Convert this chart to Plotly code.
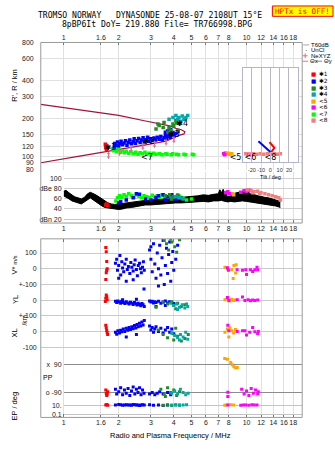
import plotly.graph_objects as go

W, H = 335, 451
def fx(p): return p / W
def fy(p): return 1 - p / H

# ---------------- ticks ----------------
FREQ_TICKS = [1, 1.6, 2, 3, 4, 5, 6, 7, 8, 10, 12, 14, 16, 18]
FREQ_TEXT = ["1", "1.6", "2", "3", "4", "5", "6", "7", "8", "10", "12", "14", "16", "18"]
RANGE_TICKS = [80, 90, 100, 120, 150, 200, 300, 400, 600, 800]
DB_TICKS = [40, 60, 80, 100]
DB_TEXT = ["40", "60", "dBe 80", "100"]
VS_TICKS = [100, 0, -100]; VS_TEXT = ["100", "0", "+-100"]
YL_TICKS = [0, -100]; YL_TEXT = ["0", "+-100"]
XL_TICKS = [0, -100]; XL_TEXT = ["0", "-100"]
PP_TICKS = [90, -90]; PP_TEXT = ["x  90", "o -90"]
EP_TICKS = [10, 0.1]; EP_TEXT = ["10.", "0.1"]
TILT_TICKS = [-20, -10, 0, 10, 20]; TILT_TEXT = ["-20", "-10", "0", "10", "20"]

# ---------------- data ----------------
# model curve in range panel
model_f = [0.75, 1.2, 1.61, 2.0, 2.76, 3.3, 3.86, 4.11, 4.4, 4.6, 4.55, 4.27, 3.63, 2.76, 2.0, 1.61, 1.2, 0.75]
model_h = [260, 236, 224, 213, 193, 183, 175, 168, 164, 158, 152, 148, 133, 124, 114, 108, 101, 90]
nexyz_f = [1.76, 2.02, 2.34, 2.71, 3.14, 3.63, 4.01]
nexyz_h = [103, 109, 115, 121, 126, 131, 137]

s1_rng_f = [1.69, 1.70, 1.70, 1.71, 1.72, 1.73]
s1_rng_h = [126, 123, 119, 116, 114, 118]
s2_rng_f = [1.89,1.90,1.93,1.97,2.00,2.03,2.06,2.10,2.14,2.18,2.22,2.26,2.30,2.35,2.40,2.43,2.47,2.52,2.57,2.62,
            2.67,2.72,2.76,2.82,2.88,2.93,2.98,3.05,3.12,3.18,3.25,3.33,3.40,3.47,3.54,3.60,3.66,3.72,3.77,3.83,
            3.90,3.96,4.02,4.10,4.22,3.70,3.85,3.60]
s2_rng_h = [120,128,124,131,122,127,133,125,129,134,124,130,136,127,132,139,128,134,140,130,
            136,142,131,137,143,133,139,135,141,136,143,138,145,136,142,148,140,146,152,143,
            150,156,147,153,158,160,165,157]
s3_rng_f = [3.20,3.28,3.33,3.50,3.54,3.72,3.77,3.86,3.96,4.11,4.22,4.00,4.15]
s3_rng_h = [166,182,177,171,187,157,171,162,182,194,162,176,185]
s4_rng_f = [3.77,3.96,4.11,4.20,4.27,4.37,4.45,4.55,4.66,4.77,4.30]
s4_rng_h = [198,205,212,198,205,191,210,198,205,212,184]
s5_rng_f = [7.65,7.75,7.95,8.10,8.30]
s5_rng_h = [108,106,107,105,106]
s6_rng_f = [7.50,7.60,10.2,10.5,10.7]
s6_rng_h = [106,104,105,104,105]
s7_rng_f = [1.85,1.88,1.92,1.95,2.00,2.05,2.10,2.15,2.20,2.27,2.33,2.40,2.47,2.55,2.62,2.70,2.78,2.85,2.93,3.00,
            3.10,3.20,3.35,3.45,3.62,3.68,3.88,3.95,4.15,4.25,4.55,4.65,5.05,5.12]
s7_rng_h = [116,112,118,110,114,109,112,108,111,107,110,106,109,105,108,106,109,105,107,104,
            107,105,106,104,106,105,104,106,105,104,105,104,105,104]
s8_rng_f = [9.9,10.4,10.9,11.4,11.9,12.4,13.0,13.6,14.2,14.8,15.3]
s8_rng_h = [106,105,106,105,106,105,106,105,106,105,106]

lab_text = ["✱1", "✱2", "✱3", "✱4", "<5", "<6", "<7", "<8"]
lab_f = [1.80, 2.92, 4.00, 4.45, 8.71, 10.5, 2.85, 13.5]
lab_h = [118, 132, 150, 182, 98, 98, 99, 98.5]

# tilt inset
thx_tilt = [-1.0, 4.3, 1.0]
thx_h = [131, 118, 109.5]
thy_tilt = [-12.9, 0.0]
thy_h = [133, 109.5]

# amplitude panel
band_f = [1.00,1.03,1.07,1.11,1.15,1.20,1.25,1.30,1.35,1.40,1.45,1.50,1.56,1.62,1.68,1.75,1.82,1.90,2.00,2.10,
          2.20,2.35,2.50,2.65,2.80,3.00,3.20,3.40,3.60,3.85,4.10,4.40,4.70,5.00,5.40,5.80,6.20,6.60,7.00,7.15,
          7.30,7.45,7.60,7.90,8.20,8.60,9.00,9.50,10.0,10.5,11.0,11.5,12.0,12.6,13.2,13.8,14.4,15.0,15.3]
band_top = [75,77,72,68,64,62,60,63,70,73,71,68,64,60,55,52,50,49,50,51,
            52,54,55,57,57,58,58,59,60,61,62,63,64,64,66,68,67,69,70,78,
            72,79,71,70,72,71,73,75,77,70,68,66,65,63,62,60,58,57,55]
band_bot = [66,64,60,56,54,52,50,54,58,62,58,54,50,46,43,42,40,40,39,40,
            42,43,45,47,48,48,49,50,50,51,52,52,53,53,54,55,54,56,56,57,
            57,56,55,54,55,54,55,56,55,54,52,51,50,49,48,47,46,44,43]
s1_db_f = [1.70, 1.72, 1.74]; s1_db_v = [48, 50, 47]
s2_db_f = [2.00,2.05,2.20,2.40,2.50,2.60,2.80,3.00,3.20,3.30,3.50,3.60,3.70,3.85,3.90,4.10,4.20]
s2_db_v = [52,55,58,62,70,69,60,58,62,66,68,58,64,59,68,60,67]
s3_db_f = [3.60,3.80,3.90,4.00,4.20,4.40]; s3_db_v = [66,68,60,64,66,62]
s4_db_f = [4.10,4.30,4.50]; s4_db_v = [64,62,60]
s5_db_f = [8.00,8.30,8.50]; s5_db_v = [69,70,68]
s6_db_f = [7.70,7.90,8.05,9.30,9.70,10.0,10.4]; s6_db_v = [72,74,70,73,76,75,77]
s7_db_f = [1.93,1.97,2.02,2.08,2.14,2.20,2.27,2.35,2.42,2.50,2.58,2.66,2.75,2.85,2.95,3.05,3.15,3.25,3.35,3.45,
           3.55,3.70,3.85,4.00,4.15,4.30,4.50,4.70,5.00]
s7_db_v = [56,62,66,63,68,65,70,66,63,68,65,62,66,64,62,67,64,66,63,68,65,63,66,64,62,65,61,58,60]
s8_db_f = [10.1,10.6,10.8,11.0,11.5,11.8,12.0,12.6,13.2,13.8,14.4,15.0,15.3]
s8_db_v = [78,76,72,74,75,70,72,70,68,66,64,62,58]

# lower panel: V* (m/s), YL (km), XL (km), PP (deg), EP (deg)
s1_vs_f = [1.70,1.71,1.72,1.73,1.72,1.71,1.70]; s1_vs_v = [135,108,46,0,-11,-25,-69]
s1_yl_f = [1.71,1.72,1.70,1.73,1.69]; s1_yl_v = [33,21,12,2,-9]
s1_xl_f = [1.70,1.71,1.72,1.73,1.74]; s1_xl_v = [40,23,6,-6,-19]
s1_pp_f = [1.70,1.71,1.72,1.73,1.74]; s1_pp_v = [-75,-95,-110,-100,-85]
s1_ep_f = [1.70,1.72,1.74]; s1_ep_v = [12,15,10]

s2_vs_f = [1.92,1.95,1.97,2.00,2.03,2.05,2.08,2.10,2.13,2.16,2.20,2.23,2.26,2.30,2.33,2.36,2.40,2.43,2.46,2.50,
           2.53,2.56,2.60,2.63,2.66,2.70,2.73,2.76,2.40,2.20,2.00,2.95,3.00,3.05,3.10,3.15,3.20,3.25,3.30,3.35,
           3.40,3.45,3.50,3.55,3.60,3.65,3.70,3.75,3.80,3.85,3.90,3.95,4.00,4.10,4.20,3.30,3.00]
s2_vs_v = [35,60,-10,20,85,-40,45,5,-20,30,60,-5,15,-30,40,10,-15,25,55,-5,
           -45,20,35,0,-25,10,45,-10,-70,-80,-60,120,60,-20,160,30,-60,100,0,150,
           -40,70,180,-100,20,130,-30,90,170,-80,40,110,-10,60,150,-110,140]
s2_yl_f = [1.92,1.95,1.98,2.02,2.05,2.08,2.12,2.16,2.20,2.24,2.28,2.32,2.36,2.40,2.44,2.48,2.52,2.56,2.60,2.64,
           2.68,2.72,2.76,2.75,2.50,2.10,2.95,3.00,3.05,3.10,3.15,3.20,3.30,3.40,3.50,3.60,3.70,3.80,3.90,4.00,
           3.20,3.60]
s2_yl_v = [-8,-15,-5,-12,-20,-8,-15,-22,-10,-18,-25,-14,-20,-28,-16,-24,-32,-20,-28,-36,
           -22,-30,-40,70,5,3,-5,-12,-8,-18,-10,-15,-8,-20,-12,-5,-18,-10,-15,-22,
           -40,-35]
s2_xl_f = [1.92,1.95,1.98,2.02,2.05,2.08,2.12,2.16,2.20,2.24,2.28,2.32,2.36,2.40,2.44,2.48,2.52,2.56,2.60,2.64,
           2.68,2.72,2.76,2.20,2.50,2.95,3.00,3.05,3.10,3.15,3.20,3.30,3.40,3.50,3.60,3.70,3.80,3.90,4.00]
s2_xl_v = [-5,-18,5,-10,8,-2,15,0,20,8,25,12,30,18,38,22,45,30,52,35,
           60,42,70,-35,-20,35,10,25,-5,15,30,0,20,-10,10,25,-5,15,-15]
s2_pp_f = [1.92,1.95,2.00,2.05,2.10,2.15,2.20,2.25,2.30,2.35,2.40,2.45,2.50,2.55,2.60,2.65,2.70,2.75,
           2.95,3.05,3.15,3.25,3.35,3.50,3.70,3.85]
s2_pp_v = [-70,-100,-85,-60,-105,-75,-95,-65,-110,-80,-55,-100,-70,-90,-60,-105,-75,-95,
           -100,-90,-105,-95,-85,-100,-90,-105]
s2_ep_f = [1.92,2.00,2.05,2.10,2.15,2.20,2.25,2.30,2.35,2.40,2.45,2.50,2.55,2.60,2.65,2.70,2.76,
           2.95,3.10,3.30,3.50,3.70]
s2_ep_v = [12,15,13,10,11,14,12,11,10,16,14,12,11,9,12,13,11,14,10,12,9,11]

s3_vs_f = [3.55,3.65,3.75,3.85,3.90,4.05,4.15,4.30]; s3_vs_v = [180,160,120,190,170,140,105,185]
s3_yl_f = [3.20,3.50,3.70,3.90,4.00,4.20,4.40,4.60,4.10]; s3_yl_v = [-45,-15,-25,-10,-35,-20,-40,-30,-55]
s3_xl_f = [3.30,3.50,3.70,3.90,4.00,4.20,4.40,4.60,4.80,4.10]; s3_xl_v = [10,-20,-40,-10,-55,-30,-60,-45,-20,20]
s3_pp_f = [3.40,3.55,3.70,3.85,4.00,4.15,4.30,3.60]; s3_pp_v = [-70,-100,-60,-90,-75,-110,-85,-115]
s3_ep_f = [3.50,3.70,3.90,4.10,4.30]; s3_ep_v = [10,12,9,11,10]

s4_yl_f = [3.85,4.00,4.15,4.30,4.45,4.60,4.77,4.20,4.70]; s4_yl_v = [-20,-35,-25,-45,-30,-50,-40,-60,-25]
s4_xl_f = [3.90,4.05,4.20,4.35,4.50,4.65,4.77,4.30]; s4_xl_v = [-10,-25,-40,-20,-35,-5,-50,-55]
s4_pp_f = [3.90,4.05,4.20,4.35,4.50,4.65,4.80]; s4_pp_v = [-95,-80,-100,-70,-90,-105,-95]
s4_ep_f = [3.90,4.10,4.30,4.50,4.70]; s4_ep_v = [12,13,11,12,13]

s5_vs_f = [7.62,7.86,8.53,8.77,8.30,8.72,8.45]; s5_vs_v = [10,0,21,25,-6,-27,-63]
s5_yl_f = [7.62,7.90,8.10,8.30,8.50,8.70]; s5_yl_v = [3,10,-6,5,-3,0]
s5_xl_f = [7.62,7.85,8.10,8.30,8.50,8.70,8.00]; s5_xl_v = [-5,15,23,5,-10,12,-36]
s5_pp_f = [7.60,7.86,8.20,8.36,8.53,8.72,8.90]; s5_pp_v = [126,121,101,86,73,65,69]
s5_ep_f = [7.60,7.80,8.20,8.50]; s5_ep_v = [10,12,14,11]

s6_vs_f = [7.86,7.96,8.88,9.50,9.90,10.0,10.5,10.8,11.1,11.4,11.5]; s6_vs_v = [6,-10,-6,-10,-6,-36,-6,-17,-6,10,-6]
s6_yl_f = [7.86,8.00,8.90,9.50,9.80,10.2,10.5,10.8,11.1,11.5]; s6_yl_v = [17,-3,3,20,-3,2,-4,0,-2,1]
s6_xl_f = [7.90,8.00,8.90,9.50,9.80,10.0,10.4,10.8,11.1,11.5,11.6]; s6_xl_v = [40,5,0,5,4,-23,-5,25,-2,-15,0]
s6_pp_f = [7.90,7.90,9.40,9.70,10.0,10.3,10.6,10.9,11.2,11.5,11.6]; s6_pp_v = [-88,-115,-70,-100,-80,-110,-65,-95,-75,-100,-85]
s6_ep_f = [7.90,9.30,9.60,9.90,10.3,10.7,11.0,11.4]; s6_ep_v = [11,10,12,11,10,13,11,12]

C1, C2, C3, C4 = "#ff0000", "#0000ff", "#228b22", "#00a8a8"
C5, C6, C7, C8 = "#ffa500", "#ff00ff", "#00ff00", "#f08080"
leg_names = ["✱1", "✱2", "✱3", "✱4", "<5", "<6", "<7", "<8"]
leg_colors = [C1, C2, C3, C4, C5, C6, C7, C8]

# ---------------- axis geometry ----------------
XR = [-0.125, 1.3043]
XR_IN = [0.0, 1.3043]
RANGE_R = [1.8952, 2.90309]
DB_R = [12.2, 113.66]
VS_R = [-947.9, 190.6]
YL_R = [-747.9, 390.6]
XL_R = [-547.9, 590.6]
PP_R = [-248.7, 886.5]
EP_R = [-1.733, 38.49]
TILT_R = [-30, 30]
INSET_R = [1.9614, 2.7007]

TICKFONT = dict(family="Liberation Sans, Arial, sans-serif", size=7, color="#222222")
GRID = "#e0e0e0"

fig = go.Figure()

def pts(xs, ys, xa, ya, col, size=3):
    fig.add_trace(go.Scatter(x=xs, y=ys, xaxis=xa, yaxis=ya, mode="markers",
                             marker=dict(symbol="square", size=size, color=col, line=dict(width=0)),
                             showlegend=False, hoverinfo="skip"))

# white patch behind the tilt inset (derived from the inset's placement on the range panel)
span = XR[1] - XR[0]
cov_f0 = 10 ** (XR[0] + (242 - 39) / (302 - 39) * span)
cov_f1 = 10 ** (XR[0] + (298 - 39) / (302 - 39) * span)
cov_h0, cov_h1 = 10 ** INSET_R[0], 10 ** INSET_R[1]
fig.add_trace(go.Scatter(x=[cov_f0, cov_f1, cov_f1, cov_f0, cov_f0], y=[cov_h0, cov_h0, cov_h1, cov_h1, cov_h0],
                         xaxis="x", yaxis="y", mode="lines", fill="toself", fillcolor="white",
                         line=dict(width=0, color="white"), showlegend=False, hoverinfo="skip"))

# range panel
fig.add_trace(go.Scatter(x=model_f, y=model_h, xaxis="x", yaxis="y", mode="lines",
                         line=dict(color="#a3123f", width=1.2), showlegend=False, hoverinfo="skip"))
for xs, ys, c in [(s7_rng_f, s7_rng_h, C7), (s2_rng_f, s2_rng_h, C2), (s3_rng_f, s3_rng_h, C3),
                  (s4_rng_f, s4_rng_h, C4), (s1_rng_f, s1_rng_h, C1), (s5_rng_f, s5_rng_h, C5),
                  (s6_rng_f, s6_rng_h, C6), (s8_rng_f, s8_rng_h, C8)]:
    pts(xs, ys, "x", "y", c, 3.5)
fig.add_trace(go.Scatter(x=nexyz_f, y=nexyz_h, xaxis="x", yaxis="y", mode="markers",
                         marker=dict(symbol="line-ns", size=5, color="#e06c8c", line=dict(width=1, color="#e06c8c")),
                         error_y=dict(type="percent", value=3, width=1.5, thickness=1, color="#e06c8c"),
                         showlegend=False, hoverinfo="skip"))
fig.add_trace(go.Scatter(x=lab_f, y=lab_h, xaxis="x", yaxis="y", mode="text", text=lab_text,
                         textfont=dict(family="DejaVu Sans", size=8, color="black"),
                         showlegend=False, hoverinfo="skip"))
fig.add_trace(go.Scatter(x=[], y=[], xaxis="x2", yaxis="y", showlegend=False))

# inset
fig.add_trace(go.Scatter(x=thy_tilt, y=thy_h, xaxis="x6", yaxis="y9", mode="lines",
                         line=dict(color="#0000ff", width=2), showlegend=False, hoverinfo="skip"))
fig.add_trace(go.Scatter(x=thx_tilt, y=thx_h, xaxis="x6", yaxis="y9", mode="lines",
                         line=dict(color="#ff0000", width=2), showlegend=False, hoverinfo="skip"))

# amplitude panel
fig.add_trace(go.Scatter(x=band_f, y=band_top, xaxis="x3", yaxis="y2", mode="lines",
                         line=dict(color="black", width=1), showlegend=False, hoverinfo="skip"))
fig.add_trace(go.Scatter(x=band_f, y=band_bot, xaxis="x3", yaxis="y2", mode="lines", fill="tonexty",
                         fillcolor="black", line=dict(color="black", width=1), showlegend=False, hoverinfo="skip"))
for xs, ys, c in [(s7_db_f, s7_db_v, C7), (s2_db_f, s2_db_v, C2), (s3_db_f, s3_db_v, C3),
                  (s4_db_f, s4_db_v, C4), (s1_db_f, s1_db_v, C1), (s5_db_f, s5_db_v, C5),
                  (s6_db_f, s6_db_v, C6), (s8_db_f, s8_db_v, C8)]:
    pts(xs, ys, "x3", "y2", c, 3.5)
fig.add_trace(go.Scatter(x=[], y=[], xaxis="x3", yaxis="y8", showlegend=False))

# lower panel
for xs, ys, c in [(s1_vs_f, s1_vs_v, C1), (s2_vs_f, s2_vs_v, C2), (s3_vs_f, s3_vs_v, C3),
                  (s5_vs_f, s5_vs_v, C5), (s6_vs_f, s6_vs_v, C6)]:
    pts(xs, ys, "x4", "y3", c, 3)
for xs, ys, c in [(s1_yl_f, s1_yl_v, C1), (s2_yl_f, s2_yl_v, C2), (s3_yl_f, s3_yl_v, C3),
                  (s4_yl_f, s4_yl_v, C4), (s5_yl_f, s5_yl_v, C5), (s6_yl_f, s6_yl_v, C6)]:
    pts(xs, ys, "x4", "y4", c, 3)
for xs, ys, c in [(s1_xl_f, s1_xl_v, C1), (s2_xl_f, s2_xl_v, C2), (s3_xl_f, s3_xl_v, C3),
                  (s4_xl_f, s4_xl_v, C4), (s5_xl_f, s5_xl_v, C5), (s6_xl_f, s6_xl_v, C6)]:
    pts(xs, ys, "x4", "y5", c, 3)
for xs, ys, c in [(s1_pp_f, s1_pp_v, C1), (s2_pp_f, s2_pp_v, C2), (s3_pp_f, s3_pp_v, C3),
                  (s4_pp_f, s4_pp_v, C4), (s5_pp_f, s5_pp_v, C5), (s6_pp_f, s6_pp_v, C6)]:
    pts(xs, ys, "x7", "y6", c, 3)
for xs, ys, c in [(s1_ep_f, s1_ep_v, C1), (s2_ep_f, s2_ep_v, C2), (s3_ep_f, s3_ep_v, C3),
                  (s4_ep_f, s4_ep_v, C4), (s5_ep_f, s5_ep_v, C5), (s6_ep_f, s6_ep_v, C6)]:
    pts(xs, ys, "x7", "y7", c, 3)
fig.add_trace(go.Scatter(x=[], y=[], xaxis="x5", yaxis="y3", showlegend=False))

common_x = dict(type="log", zeroline=False, tickvals=FREQ_TICKS, ticktext=FREQ_TEXT, tickfont=TICKFONT,
                tickangle=0)
ylow = dict(zeroline=False, tickfont=TICKFONT, gridcolor="#cacaca", ticks="", ticklabelstandoff=3)

fig.update_layout(
    width=W, height=H, margin=dict(l=0, r=0, t=0, b=0),
    paper_bgcolor="white", plot_bgcolor="rgba(0,0,0,0)", showlegend=False, hovermode=False,
    xaxis=dict(common_x, domain=[fx(39), fx(302)], range=XR, anchor="y", showticklabels=False,
               showgrid=True, gridcolor=GRID, ticks=""),
    xaxis2=dict(common_x, overlaying="x", side="top", anchor="y", range=XR, showgrid=False,
                ticks="inside", ticklen=3, tickcolor="#777777"),
    xaxis3=dict(common_x, domain=[fx(62), fx(302)], range=XR_IN, anchor="y2", showgrid=True,
                gridcolor=GRID, ticks="inside", ticklen=3, tickcolor="#777777"),
    xaxis4=dict(common_x, domain=[fx(39), fx(302)], range=XR, anchor="y3", showgrid=True,
                gridcolor=GRID, ticks="inside", ticklen=3, tickcolor="#777777"),
    xaxis5=dict(common_x, overlaying="x4", side="top", anchor="y3", range=XR, showgrid=False,
                showticklabels=False, ticks="inside", ticklen=3, tickcolor="#777777"),
    xaxis6=dict(domain=[fx(242), fx(298)], range=TILT_R, anchor="y9", tickvals=TILT_TICKS, ticktext=TILT_TEXT,
                tickfont=dict(family="Liberation Sans, Arial", size=5.5, color="#333333"), showgrid=True,
                gridcolor="#b8b8c4", showline=True, mirror=True, linecolor="#b4b4cc", zeroline=False,
                ticks="", tickangle=0, ticklabelstandoff=3),
    xaxis7=dict(domain=[fx(62), fx(302)], type="log", range=XR_IN, anchor="y6", visible=False),
    yaxis=dict(domain=[fy(168.5), fy(39)], type="log", range=RANGE_R, anchor="x", tickvals=RANGE_TICKS,
               ticktext=[str(v) for v in RANGE_TICKS], showgrid=True, gridcolor=GRID, zeroline=False,
               ticks="", tickfont=TICKFONT, ticklabelstandoff=6),
    yaxis2=dict(domain=[fy(222), fy(170)], range=DB_R, anchor="x3", tickvals=DB_TICKS, ticktext=DB_TEXT,
                showgrid=True, gridcolor="#cfcfcf", zeroline=False, ticks="", tickfont=TICKFONT,
                ticklabelstandoff=1),
    yaxis8=dict(overlaying="y2", range=DB_R, anchor="x3", tickvals=[20], ticktext=["dBn 20"],
                showgrid=True, gridcolor="#c2c2ee", zeroline=False, ticks="", tickfont=TICKFONT,
                ticklabelstandoff=1),
    yaxis3=dict(ylow, domain=[fy(419), fy(238)], range=VS_R, anchor="x4", tickvals=VS_TICKS, ticktext=VS_TEXT),
    yaxis4=dict(ylow, overlaying="y3", range=YL_R, anchor="x4", tickvals=YL_TICKS, ticktext=YL_TEXT),
    yaxis5=dict(ylow, overlaying="y3", range=XL_R, anchor="x4", tickvals=XL_TICKS, ticktext=XL_TEXT),
    yaxis6=dict(domain=[fy(419), fy(238)], range=PP_R, anchor="x7", tickvals=PP_TICKS, ticktext=PP_TEXT,
                showgrid=True, gridcolor="#8c8c8c", zeroline=False, ticks="", tickfont=TICKFONT,
                ticklabelstandoff=1),
    yaxis7=dict(overlaying="y6", type="log", range=EP_R, anchor="x7", tickvals=EP_TICKS, ticktext=EP_TEXT,
                showgrid=True, gridcolor="#c4c4c4", zeroline=False, ticks="", tickfont=TICKFONT,
                ticklabelstandoff=1),
    yaxis9=dict(domain=[fy(160), fy(65)], type="log", range=INSET_R, anchor="x6", showline=True, mirror=True,
                linecolor="#b4b4cc", showticklabels=False, showgrid=False, zeroline=False, ticks=""),
)

shapes = []
# frames
for (x0, y0, x1, y1) in [(39, 39, 302, 222), (39, 238, 302, 419)]:
    shapes.append(dict(type="rect", xref="paper", yref="paper", x0=fx(x0), x1=fx(x1), y0=fy(y1), y1=fy(y0),
                       line=dict(color="#9a9a9a", width=1), fillcolor="rgba(0,0,0,0)", layer="above"))
# HPTx box
shapes.append(dict(type="rect", xref="paper", yref="paper", x0=fx(272), x1=fx(333), y0=fy(12.5), y1=fy(2),
                   line=dict(color="#ff0000", width=1), fillcolor="#ffff00", layer="below"))
# legend samples
for (xa, xb, yy, col) in [(303, 309, 41.5, "#a8a8a8"), (302, 308, 58, "#f07090"), (316, 322, 58, "#8080f0")]:
    shapes.append(dict(type="line", xref="paper", yref="paper", x0=fx(xa), x1=fx(xb), y0=fy(yy), y1=fy(yy),
                       line=dict(color=col, width=1)))
shapes.append(dict(type="circle", xref="paper", yref="paper", x0=fx(305.5), x1=fx(306.5), y0=fy(47.5), y1=fy(46.5),
                   fillcolor="black", line=dict(width=0)))
shapes.append(dict(type="line", xref="paper", yref="paper", x0=fx(302.5), x1=fx(307.5), y0=fy(52.5), y1=fy(52.5),
                   line=dict(color="#e06c8c", width=1)))
shapes.append(dict(type="line", xref="paper", yref="paper", x0=fx(305), x1=fx(305), y0=fy(55), y1=fy(50),
                   line=dict(color="#e06c8c", width=1)))
fig.update_layout(shapes=shapes)

ann = []
MONO = "DejaVu Sans Mono, monospace"
def A(text, x, y, size=7, color="black", family="Liberation Sans, Arial", xanchor="center", angle=0):
    ann.append(dict(text=text, x=fx(x), y=fy(y), xref="paper", yref="paper", showarrow=False,
                    xanchor=xanchor, yanchor="middle", textangle=angle, borderpad=0,
                    font=dict(family=family, size=size, color=color)))

A("TROMSO NORWAY   DYNASONDE 25-08-07 2108UT 15°E", 149, 11.3, 8.1, family=MONO)
A("8pBP6It DoY= 219.880 File= TR766998.BPG", 156, 20.4, 8.1, family=MONO)
A("HPTx is OFF!", 302.5, 7.3, 7.6, color="#ff0000", family=MONO)
A("R', R / km", 13, 82, 7.5, angle=-90)
A("V* <span style='font-size:5.5px'>m/s</span>", 13, 264, 7.5, angle=-90)
A("YL", 13, 299, 7.5, angle=-90)
A("/km", 23, 321, 6.5, angle=-90)
A("XL", 13, 333, 7.5, angle=-90)
A("EP / deg", 13, 407, 7.5, angle=-90)
A("PP", 46.5, 379, 7)
A("Radio and Plasma Frequency / MHz", 170, 437, 7.5)
A("Tilt / deg", 270, 175, 5.5)
# legend
A("T60dB", 309.5, 41.5, 6, xanchor="left")
A("UnCl", 309.5, 47, 6, xanchor="left")
A("NeXYZ", 309.5, 52.5, 6, xanchor="left")
A("Θx", 308.5, 58, 6, xanchor="left")
A("Θy", 322.5, 58, 6, xanchor="left")
for i, (nm, col) in enumerate(zip(leg_names, leg_colors)):
    yy = 71.3 + 6.67 * i
    A("■", 313, yy, 5.5, color=col, family="DejaVu Sans")
    A(nm, 317.5, yy, 5.8, family="DejaVu Sans", xanchor="left")
fig.update_layout(annotations=ann)

fig.write_html("out.html")
